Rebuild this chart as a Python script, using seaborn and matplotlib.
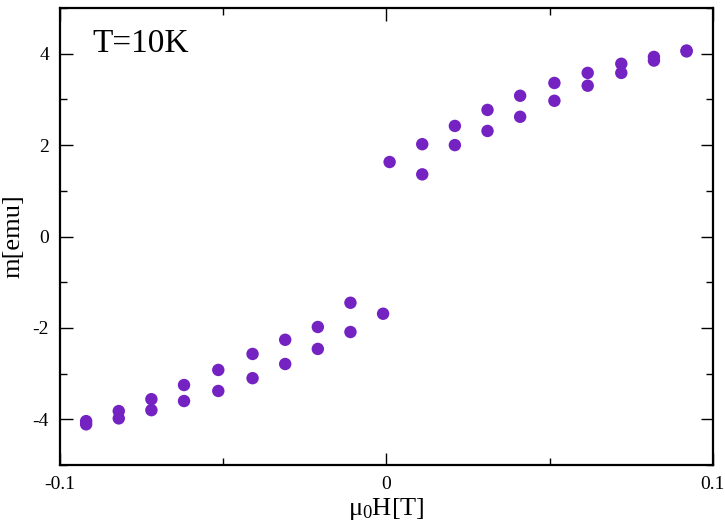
import matplotlib
matplotlib.use("Agg")
import matplotlib.pyplot as plt
import seaborn as sns
import pandas as pd
from matplotlib.ticker import MultipleLocator, FixedLocator, FuncFormatter

sns.set_style("ticks")
plt.rcParams['font.family'] = ['Liberation Serif', 'DejaVu Serif']
plt.rcParams['mathtext.fontset'] = 'custom'
plt.rcParams['mathtext.rm'] = 'Liberation Serif'
plt.rcParams['mathtext.it'] = 'Liberation Serif'
plt.rcParams['text.color'] = 'black'
plt.rcParams['axes.labelcolor'] = 'black'
plt.rcParams['xtick.color'] = 'black'
plt.rcParams['ytick.color'] = 'black'

field = [0.001, 0.011, 0.011, 0.021, 0.021, 0.031, 0.031, 0.041, 0.041,
         0.0515, 0.0515, 0.0617, 0.0617, 0.072, 0.072, 0.082, 0.082, 0.092, 0.092,
         -0.001, -0.011, -0.011, -0.021, -0.021, -0.031, -0.031, -0.041, -0.041,
         -0.0515, -0.0515, -0.062, -0.062, -0.072, -0.072, -0.082, -0.082, -0.092, -0.092]
moment = [1.63, 2.02, 1.36, 2.42, 2.00, 2.77, 2.31, 3.08, 2.62,
          3.36, 2.97, 3.58, 3.30, 3.78, 3.58, 3.93, 3.85, 4.07, 4.05,
          -1.69, -1.45, -2.09, -1.98, -2.46, -2.26, -2.79, -2.57, -3.10,
          -2.92, -3.38, -3.25, -3.60, -3.56, -3.80, -3.82, -3.98, -4.04, -4.11]
xtick_labels = ["-0.1", "0", "0.1"]

df = pd.DataFrame({"H": field, "m": moment})

fig = plt.figure(figsize=(7.25, 5.24), dpi=100)
ax = fig.add_axes([0.0828, 0.1126, 0.9002, 0.8721])
sns.scatterplot(data=df, x="H", y="m", ax=ax, color="#7522C3", s=80,
                edgecolor="none", linewidth=0)

ax.set_xlim(-0.1, 0.1)
ax.set_ylim(-5, 5)
ax.xaxis.set_major_locator(FixedLocator([-0.1, 0, 0.1]))
ax.xaxis.set_minor_locator(FixedLocator([-0.05, 0.05]))
ax.set_xticklabels(xtick_labels)
ax.yaxis.set_major_locator(MultipleLocator(2))
ax.yaxis.set_minor_locator(MultipleLocator(1))
ax.yaxis.set_major_formatter(FuncFormatter(lambda v, p: f"{int(round(v))}"))

for s in ax.spines.values():
    s.set_visible(True)
    s.set_linewidth(1.6)
    s.set_color("black")

ax.tick_params(which="major", direction="in", length=9, width=1, top=True, right=True,
               labelsize=14, colors="black", pad=8)
ax.tick_params(which="minor", direction="in", length=5, width=1, top=True, right=True,
               colors="black")

ax.set_xlabel(r"$\mu_{0}$H[T]", fontsize=19, labelpad=2, color="black")
ax.set_ylabel("m[emu]", fontsize=19, labelpad=6, color="black")
ax.text(0.05, 0.955, "T=10K", transform=ax.transAxes, fontsize=24,
        ha="left", va="top", color="black")

fig.savefig("out.png", dpi=100)
